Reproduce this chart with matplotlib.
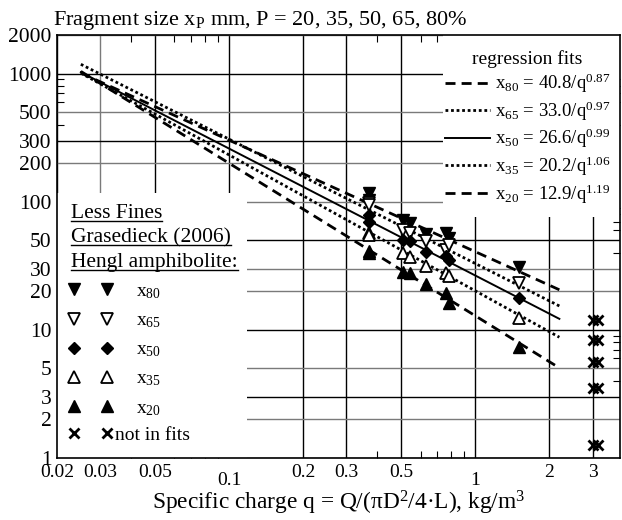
import numpy as np
import matplotlib.pyplot as plt
from matplotlib.lines import Line2D
from matplotlib.patches import Rectangle

plt.rcParams['font.family'] = ['Liberation Serif', 'DejaVu Serif']
plt.rcParams['mathtext.fontset'] = 'custom'
plt.rcParams['mathtext.rm'] = 'Liberation Serif'
plt.rcParams['mathtext.it'] = 'Liberation Serif:italic'

# measured fragment sizes (mm) vs specific charge q (kg/m3)
q_less_fines = [0.37, 0.51, 0.63, 0.76, 1.51]
x80_less_fines = [117, 72, 56, 57, 31]
x65_less_fines = [98, 60, 49, 42, 23.3]
x50_less_fines = [79, 50.5, 40.7, 38, 17.8]
x35_less_fines = [57, 40, 31.6, 28, 12.4]
x20_less_fines = [41, 28.4, 22.9, 19.5, 7.4]

q_hengl = [0.37, 0.545, 0.785]
x80_hengl = [104, 68, 52]
x65_hengl = [94, 57, 46]
x50_hengl = [70, 49, 35]
x35_hengl = [55, 37, 26.5]
x20_hengl = [40, 27.7, 16.2]

# shots left out of the regressions
q_excluded = [3.02, 3.16]
x_excluded = [12, 8.4, 5.6, 3.5, 1.26]

# regression fits x_P = a / q^b
fit_p = ['80', '65', '50', '35', '20']
fit_a = [40.8, 33.0, 26.6, 20.2, 12.9]
fit_b = [0.87, 0.97, 0.99, 1.06, 1.19]
fit_q_range = (0.025, 2.2)

x_ticks = [0.02, 0.03, 0.05, 0.1, 0.2, 0.3, 0.5, 1, 2, 3]
x_tick_labels = ['0.02', '0.03', '0.05', '0.1', '0.2', '0.3', '0.5', '1', '2', '3']
y_ticks = [1, 2, 3, 5, 10, 20, 30, 50, 100, 200, 300, 500, 1000, 2000]

fit_styles = [
    dict(ls=(0, (3.6, 2.2)), lw=2.0),
    dict(ls=(0, (1.0, 1.0)), lw=2.0),
    dict(ls='-', lw=1.4),
    dict(ls=(0, (1.0, 1.0)), lw=2.0),
    dict(ls=(0, (3.6, 2.2)), lw=2.0),
]
marker_styles = [
    dict(marker='v', mfc='black', ms=8.5),
    dict(marker='v', mfc='white', ms=8.5, mew=1.3),
    dict(marker='D', mfc='black', ms=6.5),
    dict(marker='^', mfc='white', ms=8.5, mew=1.3),
    dict(marker='^', mfc='black', ms=8.5),
]

fig = plt.figure(figsize=(6.22, 5.2), dpi=100)
ax = fig.add_axes([57 / 622, 1 - 458 / 520, 563 / 622, 423 / 520])
ax.set_xscale('log')
ax.set_yscale('log')
ax.set_xlim(0.02, 3.88)
ax.set_ylim(1, 2000)
ax.set_axisbelow(True)

ax.set_xticks(x_ticks)
ax.set_xticklabels(x_tick_labels)
ax.set_yticks(y_ticks)
ax.set_yticklabels([str(v) for v in y_ticks])
minor_x = [0.04, 0.06, 0.07, 0.08, 0.09, 0.4, 0.6, 0.7, 0.8, 0.9]
minor_y = [m * 10 ** k for k in range(4) for m in (4, 6, 7, 8, 9) if m * 10 ** k < 2000]
ax.set_xticks(minor_x, minor=True)
ax.set_yticks(minor_y, minor=True)
ax.xaxis.set_minor_formatter(plt.NullFormatter())
ax.yaxis.set_minor_formatter(plt.NullFormatter())
ax.tick_params(which='major', length=0)
ax.tick_params(axis='x', which='major', labelsize=14, pad=4)
ax.tick_params(axis='y', which='major', labelsize=15.5, pad=4)
ax.tick_params(which='minor', direction='in', length=5, width=0.8,
               top=True, right=True)
for s in ax.spines.values():
    s.set_linewidth(1.2)

ax.grid(True, which='major', color='black', lw=1.0)
dark_y = {3, 10, 50, 300, 1000}
for v, gl in zip(y_ticks, ax.yaxis.get_gridlines()):
    if v not in dark_y:
        gl.set_color('#7a7a7a')
for v, gl in zip(x_ticks, ax.xaxis.get_gridlines()):
    if v == 0.03:
        gl.set_color('#7a7a7a')

# white panels behind the two keys
ax.add_patch(Rectangle((0, 0), 0.337, 0.626, transform=ax.transAxes,
                       facecolor='white', edgecolor='none', zorder=1))
ax.add_patch(Rectangle((0.686, 0.570), 0.32, 0.43, transform=ax.transAxes,
                       facecolor='white', edgecolor='none', zorder=1))

q_fit = np.geomspace(*fit_q_range, 60)
fit_handles = []
for p, a, b, st in zip(fit_p, fit_a, fit_b, fit_styles):
    line, = ax.plot(q_fit, a / q_fit ** b, color='black', zorder=2,
                    label=f'x$_{{{p}}}$ = {a:.1f}/q$^{{{b:.2f}}}$', **st)
    fit_handles.append(line)

less = [x80_less_fines, x65_less_fines, x50_less_fines, x35_less_fines, x20_less_fines]
hengl = [x80_hengl, x65_hengl, x50_hengl, x35_hengl, x20_hengl]
point_handles = []
for ys1, ys2, ms in zip(less, hengl, marker_styles):
    ax.plot(q_less_fines, ys1, ls='none', color='black', mec='black', zorder=3, **ms)
    ax.plot(q_hengl, ys2, ls='none', color='black', mec='black', zorder=3, **ms)
    point_handles.append(Line2D([], [], ls='none', color='black', mec='black', **ms))
for q in q_excluded:
    ax.plot([q] * len(x_excluded), x_excluded, ls='none', marker='x',
            color='black', ms=7, mew=2, zorder=3)
cross_handle = Line2D([], [], ls='none', marker='x', color='black', ms=7, mew=2)

leg_fit = ax.legend(handles=fit_handles, title='regression fits', loc='upper right',
                    bbox_to_anchor=(1.01, 1.0), frameon=False, fontsize=13.5,
                    title_fontsize=14, handlelength=2.4, handletextpad=0.3,
                    labelspacing=0.22, borderpad=0.3)
ax.add_artist(leg_fit)

point_labels = [f'x$_{{{p}}}$' for p in fit_p]
leg_pts = ax.legend(handles=point_handles, labels=point_labels, numpoints=2,
                    loc='upper left', bbox_to_anchor=(-0.005, 0.447), frameon=False,
                    fontsize=14, handlelength=2.3, handletextpad=1.2,
                    labelspacing=0.56, borderpad=0.2)
ax.add_artist(leg_pts)
ax.legend(handles=[cross_handle], labels=['not in fits'], numpoints=2,
          loc='center left', bbox_to_anchor=(-0.005, 0.054), frameon=False,
          fontsize=14, handlelength=2.3, handletextpad=0.15, borderpad=0.2)

heading = ['Less Fines', 'Grasedieck (2006)', 'Hengl amphibolite:']
head_texts = []
for i, t in enumerate(heading):
    head_texts.append(ax.text(0.025, 0.579 - 0.058 * i, t, transform=ax.transAxes,
                              fontsize=15.5, va='center', ha='left', zorder=5))

fig.text(53 / 622, 1 - 21 / 520,
         r'Fragment size x$_\mathrm{P}$ mm, P = 20, 35, 50, 65, 80%',
         fontsize=16, ha='left', va='center')
ax.set_xlabel(r'Specific charge q = Q/(πD$^2$/4·L), kg/m$^3$', fontsize=16.8,
              labelpad=0)

fig.canvas.draw()
for lab in ax.get_xticklabels():
    if lab.get_text() in ('0.1', '1'):
        lab.set_y(-0.02)

renderer = fig.canvas.get_renderer()
inv = fig.transFigure.inverted()
for t in head_texts:
    bb = t.get_window_extent(renderer)
    (x0, y0), (x1, _) = inv.transform([(bb.x0, bb.y0 + 2), (bb.x1, bb.y0)])
    fig.add_artist(Line2D([x0, x1], [y0, y0], color='black', lw=1.0,
                          transform=fig.transFigure, zorder=6))

fig.savefig('out.png', dpi=100)
